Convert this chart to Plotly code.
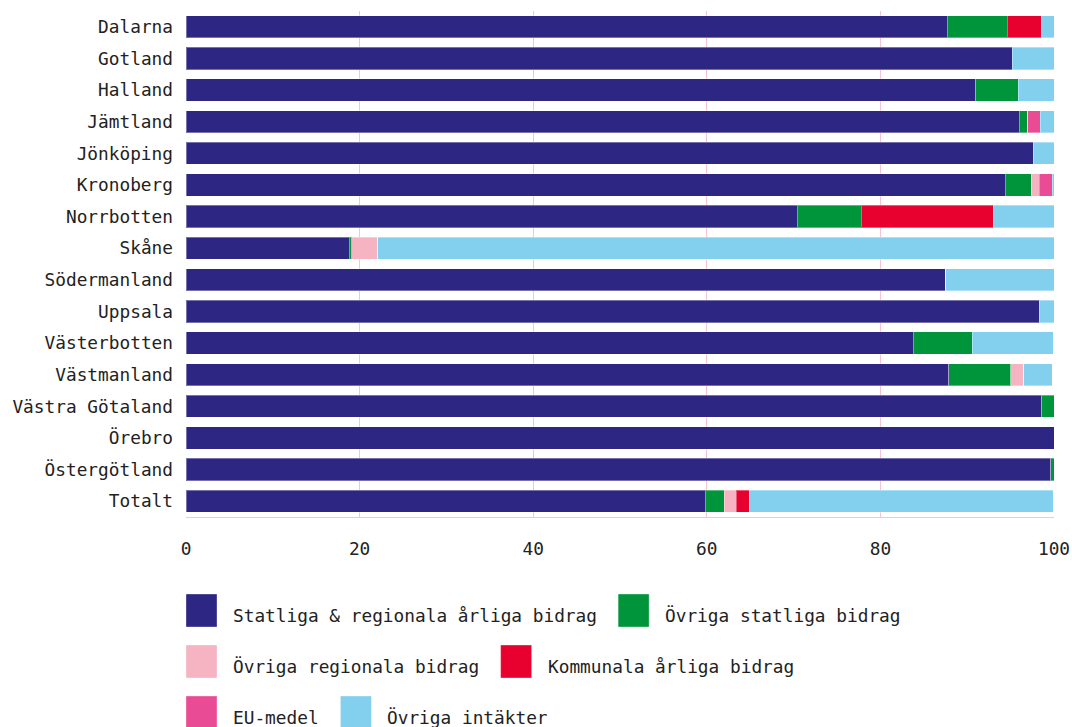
import plotly.graph_objects as go

regions = ["Dalarna", "Gotland", "Halland", "Jämtland", "Jönköping", "Kronoberg", "Norrbotten",
           "Skåne", "Södermanland", "Uppsala", "Västerbotten", "Västmanland", "Västra Götaland",
           "Örebro", "Östergötland", "Totalt"]

series_names = ["Statliga & regionala årliga bidrag", "Övriga statliga bidrag",
                "Övriga regionala bidrag", "Kommunala årliga bidrag", "EU-medel", "Övriga intäkter"]
series_colors = ["#2E2683", "#00953A", "#F6B3C2", "#E8002F", "#EA4B95", "#82CFEE"]

statliga_regionala = [87.7, 95.2, 91.0, 96.0, 97.6, 94.4, 70.4, 18.8, 87.5, 98.3, 83.8, 87.9, 98.6, 100.0, 99.6, 59.8]
ovriga_statliga    = [6.9, 0, 4.9, 1.0, 0, 3.0, 7.4, 0.3, 0, 0, 6.8, 7.1, 1.4, 0, 0.4, 2.2]
ovriga_regionala   = [0, 0, 0, 0, 0, 0.9, 0, 3.0, 0, 0, 0, 1.5, 0, 0, 0, 1.4]
kommunala          = [4.0, 0, 0, 0, 0, 0, 15.2, 0, 0, 0, 0, 0, 0, 0, 0, 1.5]
eu_medel           = [0, 0, 0, 1.4, 0, 1.5, 0, 0, 0, 0, 0, 0, 0, 0, 0, 0]
ovriga_intakter    = [1.4, 4.8, 4.1, 1.6, 2.4, 0.2, 7.0, 78.0, 12.5, 1.7, 9.3, 3.3, 0, 0, 0, 35.0]

x_ticks = [0, 20, 40, 60, 80, 100]

series_values = [statliga_regionala, ovriga_statliga, ovriga_regionala, kommunala, eu_medel, ovriga_intakter]

FONT = "DejaVu Sans Mono"
FS = 17.8
W, H = 1072, 727
ML, MR, MT, MB = 186, 18, 11, 210
PW, PH = W - ML - MR, H - MT - MB

fig = go.Figure()
for name, color, vals in zip(series_names, series_colors, series_values):
    fig.add_trace(go.Bar(
        y=regions, x=vals, name=name, orientation="h",
        marker=dict(color=color, line=dict(color="rgba(255,255,255,0.35)", width=1)),
        showlegend=False,
    ))

# custom legend (large square swatches, wrapping two per row)
def px_to_paper_x(px):
    return (px - ML) / PW

def px_to_paper_y(py):
    return (H - MB - py) / PH

shapes = []
annotations = []
charw = 0.6 * FS
sw_w, sw_h = 31, 33
row_top0, row_pitch = 594, 51
for i, (name, color) in enumerate(zip(series_names, series_colors)):
    row, col = divmod(i, 2)
    if col == 0:
        x = 186
    top = row_top0 + row * row_pitch
    shapes.append(dict(type="rect", xref="paper", yref="paper",
                       x0=px_to_paper_x(x), x1=px_to_paper_x(x + sw_w),
                       y0=px_to_paper_y(top), y1=px_to_paper_y(top + sw_h),
                       fillcolor=color, line=dict(color="rgba(255,255,255,0.35)", width=1)))
    tx = x + sw_w + 14
    annotations.append(dict(text=name, xref="paper", yref="paper",
                            x=px_to_paper_x(tx), y=px_to_paper_y(top + 21),
                            xanchor="left", yanchor="middle", showarrow=False,
                            font=dict(family=FONT, size=FS, color="#222222")))
    x = tx + len(name) * charw + 24

fig.update_layout(
    barmode="stack",
    bargap=0.3,
    width=W, height=H,
    margin=dict(l=ML, r=MR, t=MT, b=MB, autoexpand=False),
    paper_bgcolor="white", plot_bgcolor="white",
    font=dict(family=FONT, size=FS, color="#222222"),
    shapes=shapes,
    annotations=annotations,
    xaxis=dict(range=[0, 100], tickvals=x_ticks, ticktext=[str(v) for v in x_ticks],
               showgrid=True, gridcolor="#F7C5D0", gridwidth=1,
               zeroline=False, showline=True, linecolor="#F7C5D0", linewidth=1,
               ticks="", ticklabelstandoff=16, fixedrange=True,
               automargin=False, ticklabeloverflow="allow"),
    yaxis=dict(categoryorder="array", categoryarray=regions, autorange="reversed",
               showgrid=False, zeroline=False, showline=False, ticks="",
               ticklabelstandoff=12, fixedrange=True, automargin=False),
)

fig.write_html("out.html", config={"displayModeBar": False},
               post_script="document.body.style.margin='0';document.body.style.overflow='hidden';")
